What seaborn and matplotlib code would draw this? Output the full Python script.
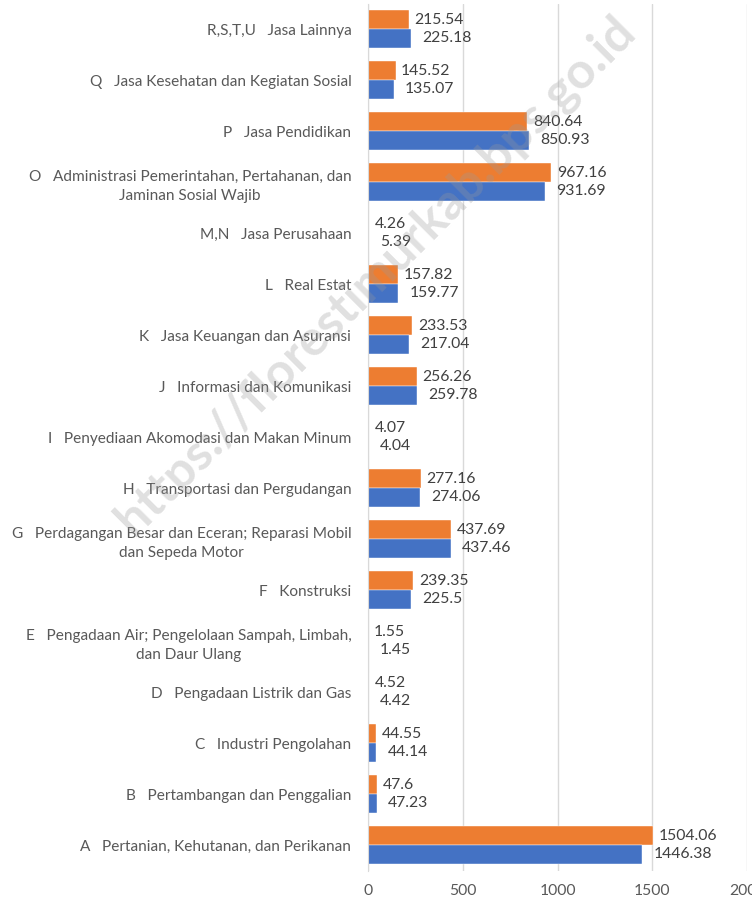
import pandas as pd
import matplotlib.pyplot as plt
import seaborn as sns

# data kategori lapangan usaha (atas ke bawah)
kategori = [
    "R,S,T,U   Jasa Lainnya",
    "Q   Jasa Kesehatan dan Kegiatan Sosial",
    "P   Jasa Pendidikan",
    "O   Administrasi Pemerintahan, Pertahanan, dan\nJaminan Sosial Wajib",
    "M,N   Jasa Perusahaan",
    "L   Real Estat",
    "K   Jasa Keuangan dan Asuransi",
    "J   Informasi dan Komunikasi",
    "I   Penyediaan Akomodasi dan Makan Minum",
    "H   Transportasi dan Pergudangan",
    "G   Perdagangan Besar dan Eceran; Reparasi Mobil\ndan Sepeda Motor",
    "F   Konstruksi",
    "E   Pengadaan Air; Pengelolaan Sampah, Limbah,\ndan Daur Ulang",
    "D   Pengadaan Listrik dan Gas",
    "C   Industri Pengolahan",
    "B   Pertambangan dan Penggalian",
    "A   Pertanian, Kehutanan, dan Perikanan",
]
seri_oranye = [215.54, 145.52, 840.64, 967.16, 4.26, 157.82, 233.53, 256.26, 4.07,
               277.16, 437.69, 239.35, 1.55, 4.52, 44.55, 47.6, 1504.06]
seri_biru = [225.18, 135.07, 850.93, 931.69, 5.39, 159.77, 217.04, 259.78, 4.04,
             274.06, 437.46, 225.5, 1.45, 4.42, 44.14, 47.23, 1446.38]
label_oranye = ["215.54", "145.52", "840.64", "967.16", "4.26", "157.82", "233.53", "256.26", "4.07",
                "277.16", "437.69", "239.35", "1.55", "4.52", "44.55", "47.6", "1504.06"]
label_biru = ["225.18", "135.07", "850.93", "931.69", "5.39", "159.77", "217.04", "259.78", "4.04",
              "274.06", "437.46", "225.5", "1.45", "4.42", "44.14", "47.23", "1446.38"]
x_ticks = [0, 500, 1000, 1500, 2000]

df = pd.DataFrame({
    "Kategori": kategori * 2,
    "Nilai": seri_oranye + seri_biru,
    "Seri": ["Seri 2"] * len(kategori) + ["Seri 1"] * len(kategori),
})

sns.set_style("white")
plt.rcParams["font.family"] = ["Lato", "DejaVu Sans"]

fig = plt.figure(figsize=(7.52, 8.97), dpi=100)
ax = fig.add_axes([0.4894, 0.0295, 0.5040, 0.9665])

sns.barplot(data=df, y="Kategori", x="Nilai", hue="Seri", hue_order=["Seri 2", "Seri 1"],
            palette=["#ED7D31", "#4472C4"], saturation=1, orient="h", width=0.73, gap=0,
            edgecolor="white", linewidth=0.3, legend=False, ax=ax)

ax.set_xlim(0, 2000)
ax.set_xticks(x_ticks)
ax.set_xlabel("")
ax.set_ylabel("")
ax.grid(axis="x", color="#D9D9D9", linewidth=1)
ax.set_axisbelow(True)
for s in ["top", "right", "bottom"]:
    ax.spines[s].set_visible(False)
ax.spines["left"].set_color("#D9D9D9")
ax.tick_params(axis="y", length=0, pad=12, labelsize=11.1, labelcolor="#595959")
ax.tick_params(axis="x", length=0, pad=10, labelsize=11.3, labelcolor="#595959")
for t in ax.get_yticklabels():
    t.set_multialignment("center")
    t.set_linespacing(1.45)

# label nilai di ujung batang
for cont, labels, off in zip(ax.containers, [label_oranye, label_biru], [4, 8]):
    for bar, lab in zip(cont, labels):
        ax.annotate(lab, (bar.get_width(), bar.get_y() + bar.get_height() / 2),
                    xytext=(off, 0), textcoords="offset points", va="center", ha="left",
                    fontsize=11.3, color="#404040", annotation_clip=False)

# watermark
fig.text(0.499, 0.693, "https://florestimurkab.bps.go.id", rotation=45, ha="center", va="center",
         fontsize=36, fontweight="bold", color="#9A9A9A", alpha=0.3)

fig.savefig("out.png", dpi=100)
